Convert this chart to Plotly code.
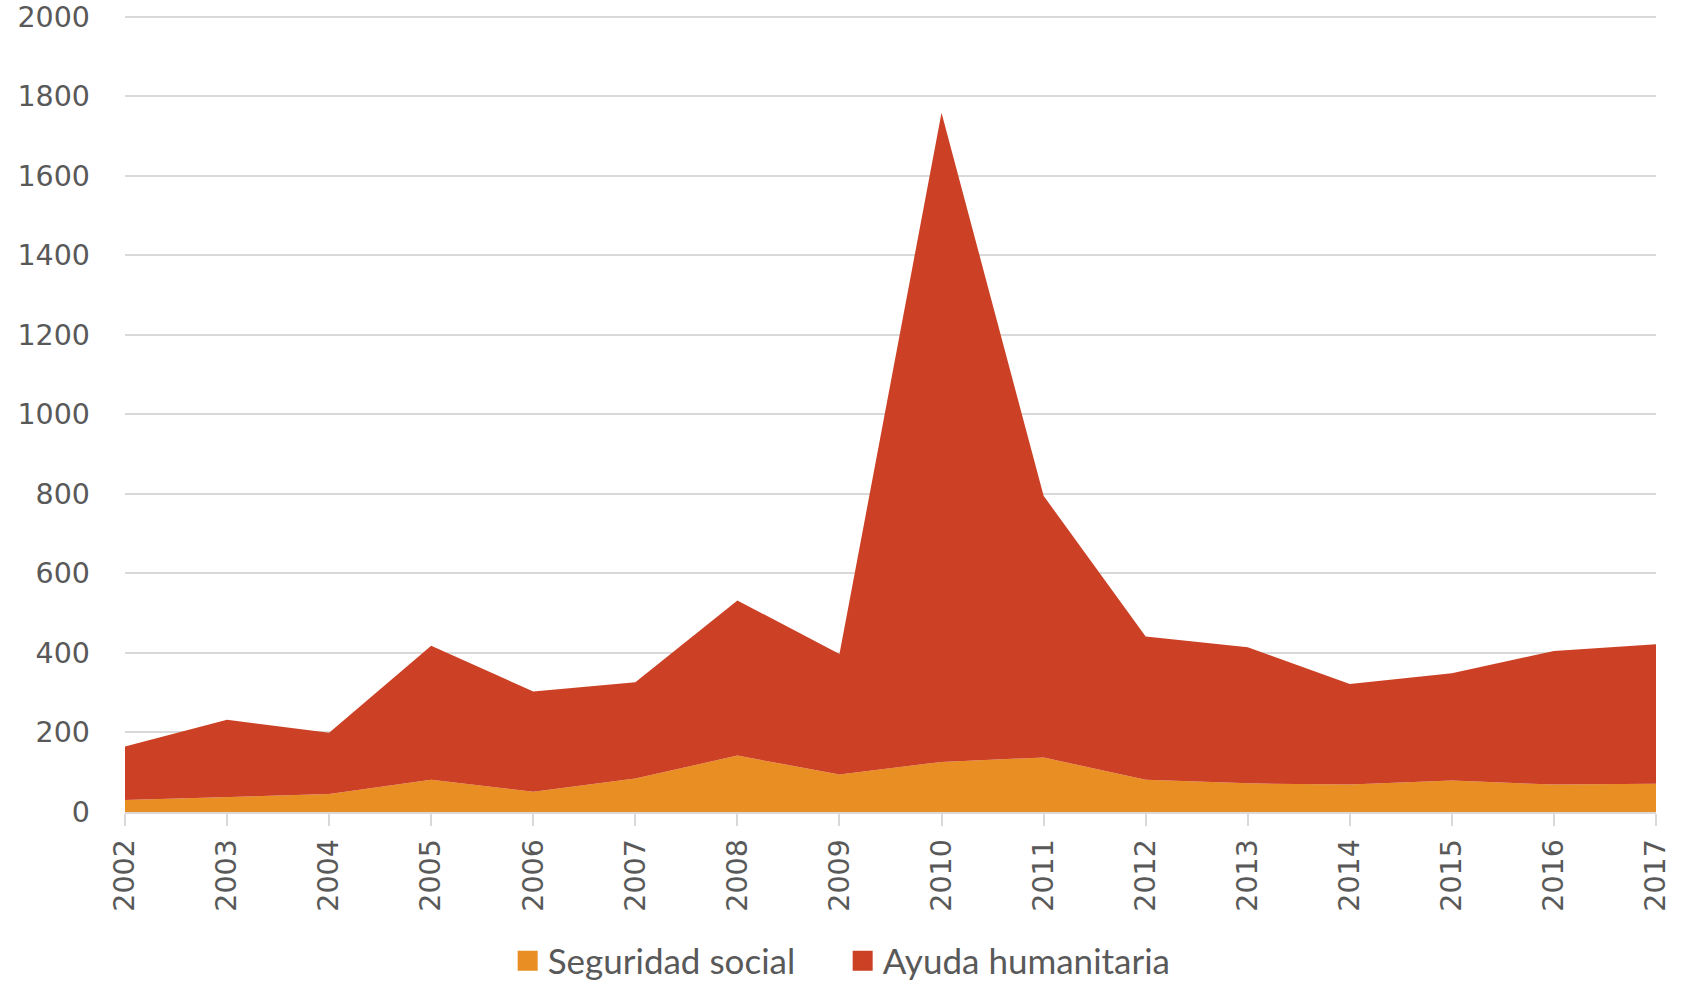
import plotly.graph_objects as go

years = [2002, 2003, 2004, 2005, 2006, 2007, 2008, 2009, 2010, 2011, 2012, 2013, 2014, 2015, 2016, 2017]
seguridad_social = [30, 38, 45, 81, 51, 84, 142, 94, 126, 137, 81, 72, 69, 79, 69, 71]
ayuda_humanitaria = [135, 194, 154, 337, 252, 242, 390, 303, 1632, 658, 360, 342, 253, 270, 336, 351]
y_ticks = list(range(0, 2001, 200))

TICK_FONT = "DejaVu Sans"
LEG_FONT = "Lato"
TXT = "#595959"
ORANGE = "#E98E22"
RED = "#CC4125"

fig = go.Figure()
fig.add_trace(go.Scatter(
    x=years, y=seguridad_social, name="Seguridad social",
    mode="lines", stackgroup="one", line=dict(width=0, color=ORANGE),
    fillcolor=ORANGE, showlegend=False,
))
fig.add_trace(go.Scatter(
    x=years, y=ayuda_humanitaria, name="Ayuda humanitaria",
    mode="lines", stackgroup="one", line=dict(width=0, color=RED),
    fillcolor=RED, showlegend=False,
))
# legend-only entries with square swatches
for name, col in [("Seguridad social", ORANGE), ("Ayuda humanitaria", RED)]:
    fig.add_trace(go.Scatter(
        x=[None], y=[None], name=name, mode="markers",
        marker=dict(symbol="square", size=16, color=col, line=dict(color=col, width=4)),
        showlegend=True,
    ))

fig.update_layout(
    width=1681, height=982,
    margin=dict(l=125, r=25, t=15, b=170),
    plot_bgcolor="white", paper_bgcolor="white",
    font=dict(family=TICK_FONT, color=TXT, size=28.5),
    showlegend=True,
    legend=dict(orientation="h", xref="container", yref="container",
                x=0.302, xanchor="left", y=1 - 961 / 982, yanchor="middle",
                font=dict(family=LEG_FONT, size=35, color=TXT), itemwidth=30,
                entrywidth=290, entrywidthmode="pixels",
                traceorder="normal", tracegroupgap=0, bgcolor="rgba(0,0,0,0)"),
    xaxis=dict(
        range=[2002, 2017], tickmode="array", tickvals=years, ticktext=[str(y) for y in years],
        tickangle=-90, showgrid=False, showline=True, linecolor="#D9D9D9", linewidth=1.5,
        ticks="outside", ticklen=12, tickcolor="#D9D9D9", tickwidth=1.5,
        tickfont=dict(family=TICK_FONT, size=28.5, color=TXT), zeroline=False,
        automargin=False, ticklabelstandoff=2, ticklabeloverflow="allow",
    ),
    yaxis=dict(
        range=[0, 2004], tickmode="array", tickvals=y_ticks, ticktext=[str(v) for v in y_ticks],
        showgrid=True, gridcolor="#D9D9D9", gridwidth=1.5, zeroline=False,
        showline=False, ticks="", ticklabelstandoff=34, automargin=False,
        ticklabeloverflow="allow",
        tickfont=dict(family=TICK_FONT, size=28.5, color=TXT),
    ),
)

fig.write_html("out.html", config={"displayModeBar": False},
               post_script="document.body.style.margin='0';")
